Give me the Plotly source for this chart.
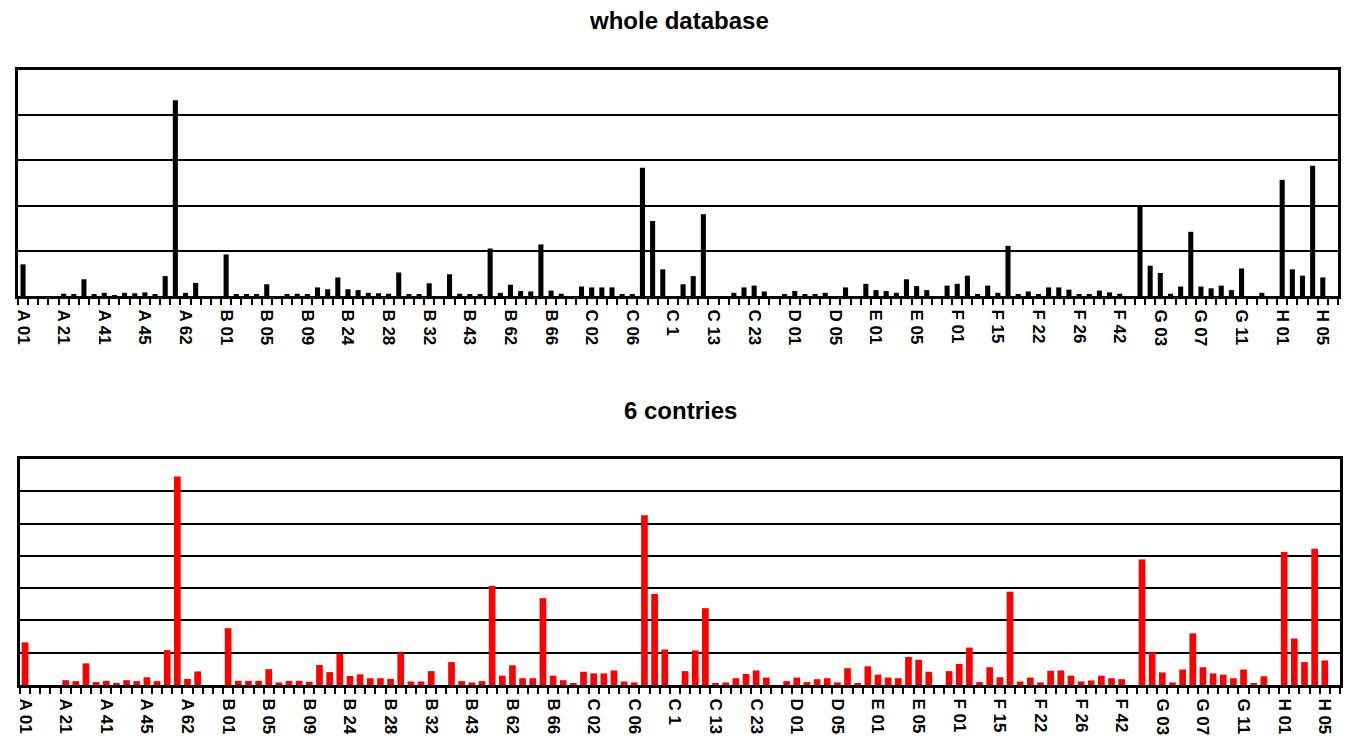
import plotly.graph_objects as go

# ---------------- data ----------------
tick_labels = ["A 01", "A 21", "A 41", "A 45", "A 62", "B 01", "B 05", "B 09", "B 24",
               "B 28", "B 32", "B 43", "B 62", "B 66", "C 02", "C 06", "C 1", "C 13",
               "C 23", "D 01", "D 05", "E 01", "E 05", "F 01", "F 15", "F 22", "F 26",
               "F 42", "G 03", "G 07", "G 11", "H 01", "H 05"]

whole_database = [
    0.70, 0, 0, 0, 0.05, 0.04, 0.37, 0.03, 0.07, 0.02,
    0.07, 0.06, 0.08, 0.04, 0.44, 4.33, 0.07, 0.29, 0, 0,
    0.92, 0.04, 0.04, 0.03, 0.26, 0, 0.03, 0.05, 0.03, 0.19,
    0.15, 0.41, 0.15, 0.13, 0.07, 0.06, 0.05, 0.52, 0.03, 0.04,
    0.28, 0, 0.48, 0.05, 0.03, 0.03, 1.05, 0.07, 0.25, 0.11,
    0.10, 1.14, 0.12, 0.05, 0, 0.21, 0.19, 0.19, 0.19, 0.04,
    0.03, 2.84, 1.66, 0.59, 0, 0.26, 0.44, 1.81, 0, 0,
    0.07, 0.19, 0.23, 0.10, 0, 0.04, 0.11, 0.04, 0.04, 0.07,
    0, 0.19, 0, 0.27, 0.13, 0.11, 0.07, 0.37, 0.22, 0.13,
    0, 0.23, 0.27, 0.45, 0.04, 0.23, 0.07, 1.11, 0.04, 0.10,
    0.03, 0.19, 0.19, 0.14, 0.04, 0.04, 0.12, 0.08, 0.05, 0,
    1.99, 0.67, 0.51, 0.05, 0.21, 1.42, 0.21, 0.17, 0.23, 0.13,
    0.61, 0, 0.07, 0, 2.57, 0.59, 0.45, 2.88, 0.41, 0,
]

six_countries = [
    1.32, 0, 0, 0, 0.15, 0.12, 0.67, 0.09, 0.13, 0.06,
    0.15, 0.12, 0.24, 0.12, 1.08, 6.46, 0.19, 0.42, 0, 0,
    1.76, 0.13, 0.13, 0.13, 0.49, 0.08, 0.13, 0.13, 0.10, 0.62,
    0.40, 0.96, 0.28, 0.33, 0.21, 0.21, 0.19, 1.00, 0.11, 0.11,
    0.43, 0, 0.71, 0.12, 0.08, 0.12, 3.07, 0.29, 0.61, 0.21,
    0.21, 2.69, 0.29, 0.15, 0.05, 0.41, 0.36, 0.36, 0.45, 0.11,
    0.08, 5.26, 2.82, 1.10, 0, 0.43, 1.07, 2.38, 0.05, 0.08,
    0.21, 0.34, 0.45, 0.23, 0, 0.12, 0.23, 0.09, 0.18, 0.21,
    0.08, 0.52, 0.06, 0.58, 0.32, 0.23, 0.21, 0.87, 0.78, 0.41,
    0, 0.43, 0.65, 1.16, 0.09, 0.55, 0.24, 2.89, 0.11, 0.23,
    0.08, 0.44, 0.45, 0.29, 0.11, 0.14, 0.29, 0.21, 0.18, 0,
    3.89, 1.01, 0.39, 0.08, 0.48, 1.60, 0.55, 0.36, 0.32, 0.21,
    0.48, 0.05, 0.27, 0, 4.12, 1.44, 0.71, 4.22, 0.76, 0,
]

titles = ["whole database", "6 contries"]

# ---------------- figure ----------------
W, H = 1346, 741
n = len(whole_database)
xs = list(range(n))
label_step = 4
tickvals = xs[::label_step][:len(tick_labels)]
ticktext = ["<b>%s</b>" % t for t in tick_labels]

FONT = "Liberation Sans, Arial, sans-serif"

fig = go.Figure()
fig.add_trace(go.Bar(x=xs, y=whole_database, width=0.5,
                     marker=dict(color="#000000", line=dict(width=0)),
                     xaxis="x", yaxis="y", showlegend=False))
fig.add_trace(go.Bar(x=xs, y=six_countries, width=0.66,
                     marker=dict(color="#ff0000", line=dict(width=0)),
                     xaxis="x2", yaxis="y2", showlegend=False))


def xaxis_cfg(domain):
    return dict(
        domain=domain, range=[-0.5, n - 0.5],
        tickmode="array", tickvals=tickvals, ticktext=ticktext,
        tickangle=90, ticks="", showgrid=False, zeroline=False,
        showline=True, linecolor="black", linewidth=3, mirror=True,
        tickfont=dict(family=FONT, size=17, color="black"),
        ticklabelstandoff=7,
        minor=dict(ticks="outside", ticklen=6, tickwidth=2, tickcolor="black",
                   tick0=0.5, dtick=1, showgrid=False),
    )


def yaxis_cfg(domain, top, anchor):
    return dict(
        domain=domain, range=[0, top], dtick=1, anchor=anchor,
        showticklabels=False, ticks="", zeroline=False,
        showgrid=True, gridcolor="black", gridwidth=2,
        showline=True, linecolor="black", linewidth=3, mirror=True,
    )


top_dom_y = [1 - 296 / H, 1 - 70 / H]
bot_dom_y = [1 - 685 / H, 1 - 459 / H]

fig.update_layout(
    width=W, height=H,
    margin=dict(l=0, r=0, t=0, b=0),
    paper_bgcolor="white", plot_bgcolor="white",
    barmode="overlay",
    xaxis=dict(**xaxis_cfg([14 / W, 1338 / W]), anchor="y"),
    yaxis=yaxis_cfg(top_dom_y, 5, "x"),
    xaxis2=dict(**xaxis_cfg([16 / W, 1340 / W]), anchor="y2"),
    yaxis2=yaxis_cfg(bot_dom_y, 7, "x2"),
    annotations=[
        dict(text="<b>%s</b>" % titles[0], x=677 / W, y=1 - 20 / H,
             xref="paper", yref="paper", showarrow=False,
             xanchor="center", yanchor="middle",
             font=dict(family=FONT, size=24, color="black")),
        dict(text="<b>%s</b>" % titles[1], x=679 / W, y=1 - 410 / H,
             xref="paper", yref="paper", showarrow=False,
             xanchor="center", yanchor="middle",
             font=dict(family=FONT, size=24, color="black")),
    ],
)

fig.write_html("out.html")
